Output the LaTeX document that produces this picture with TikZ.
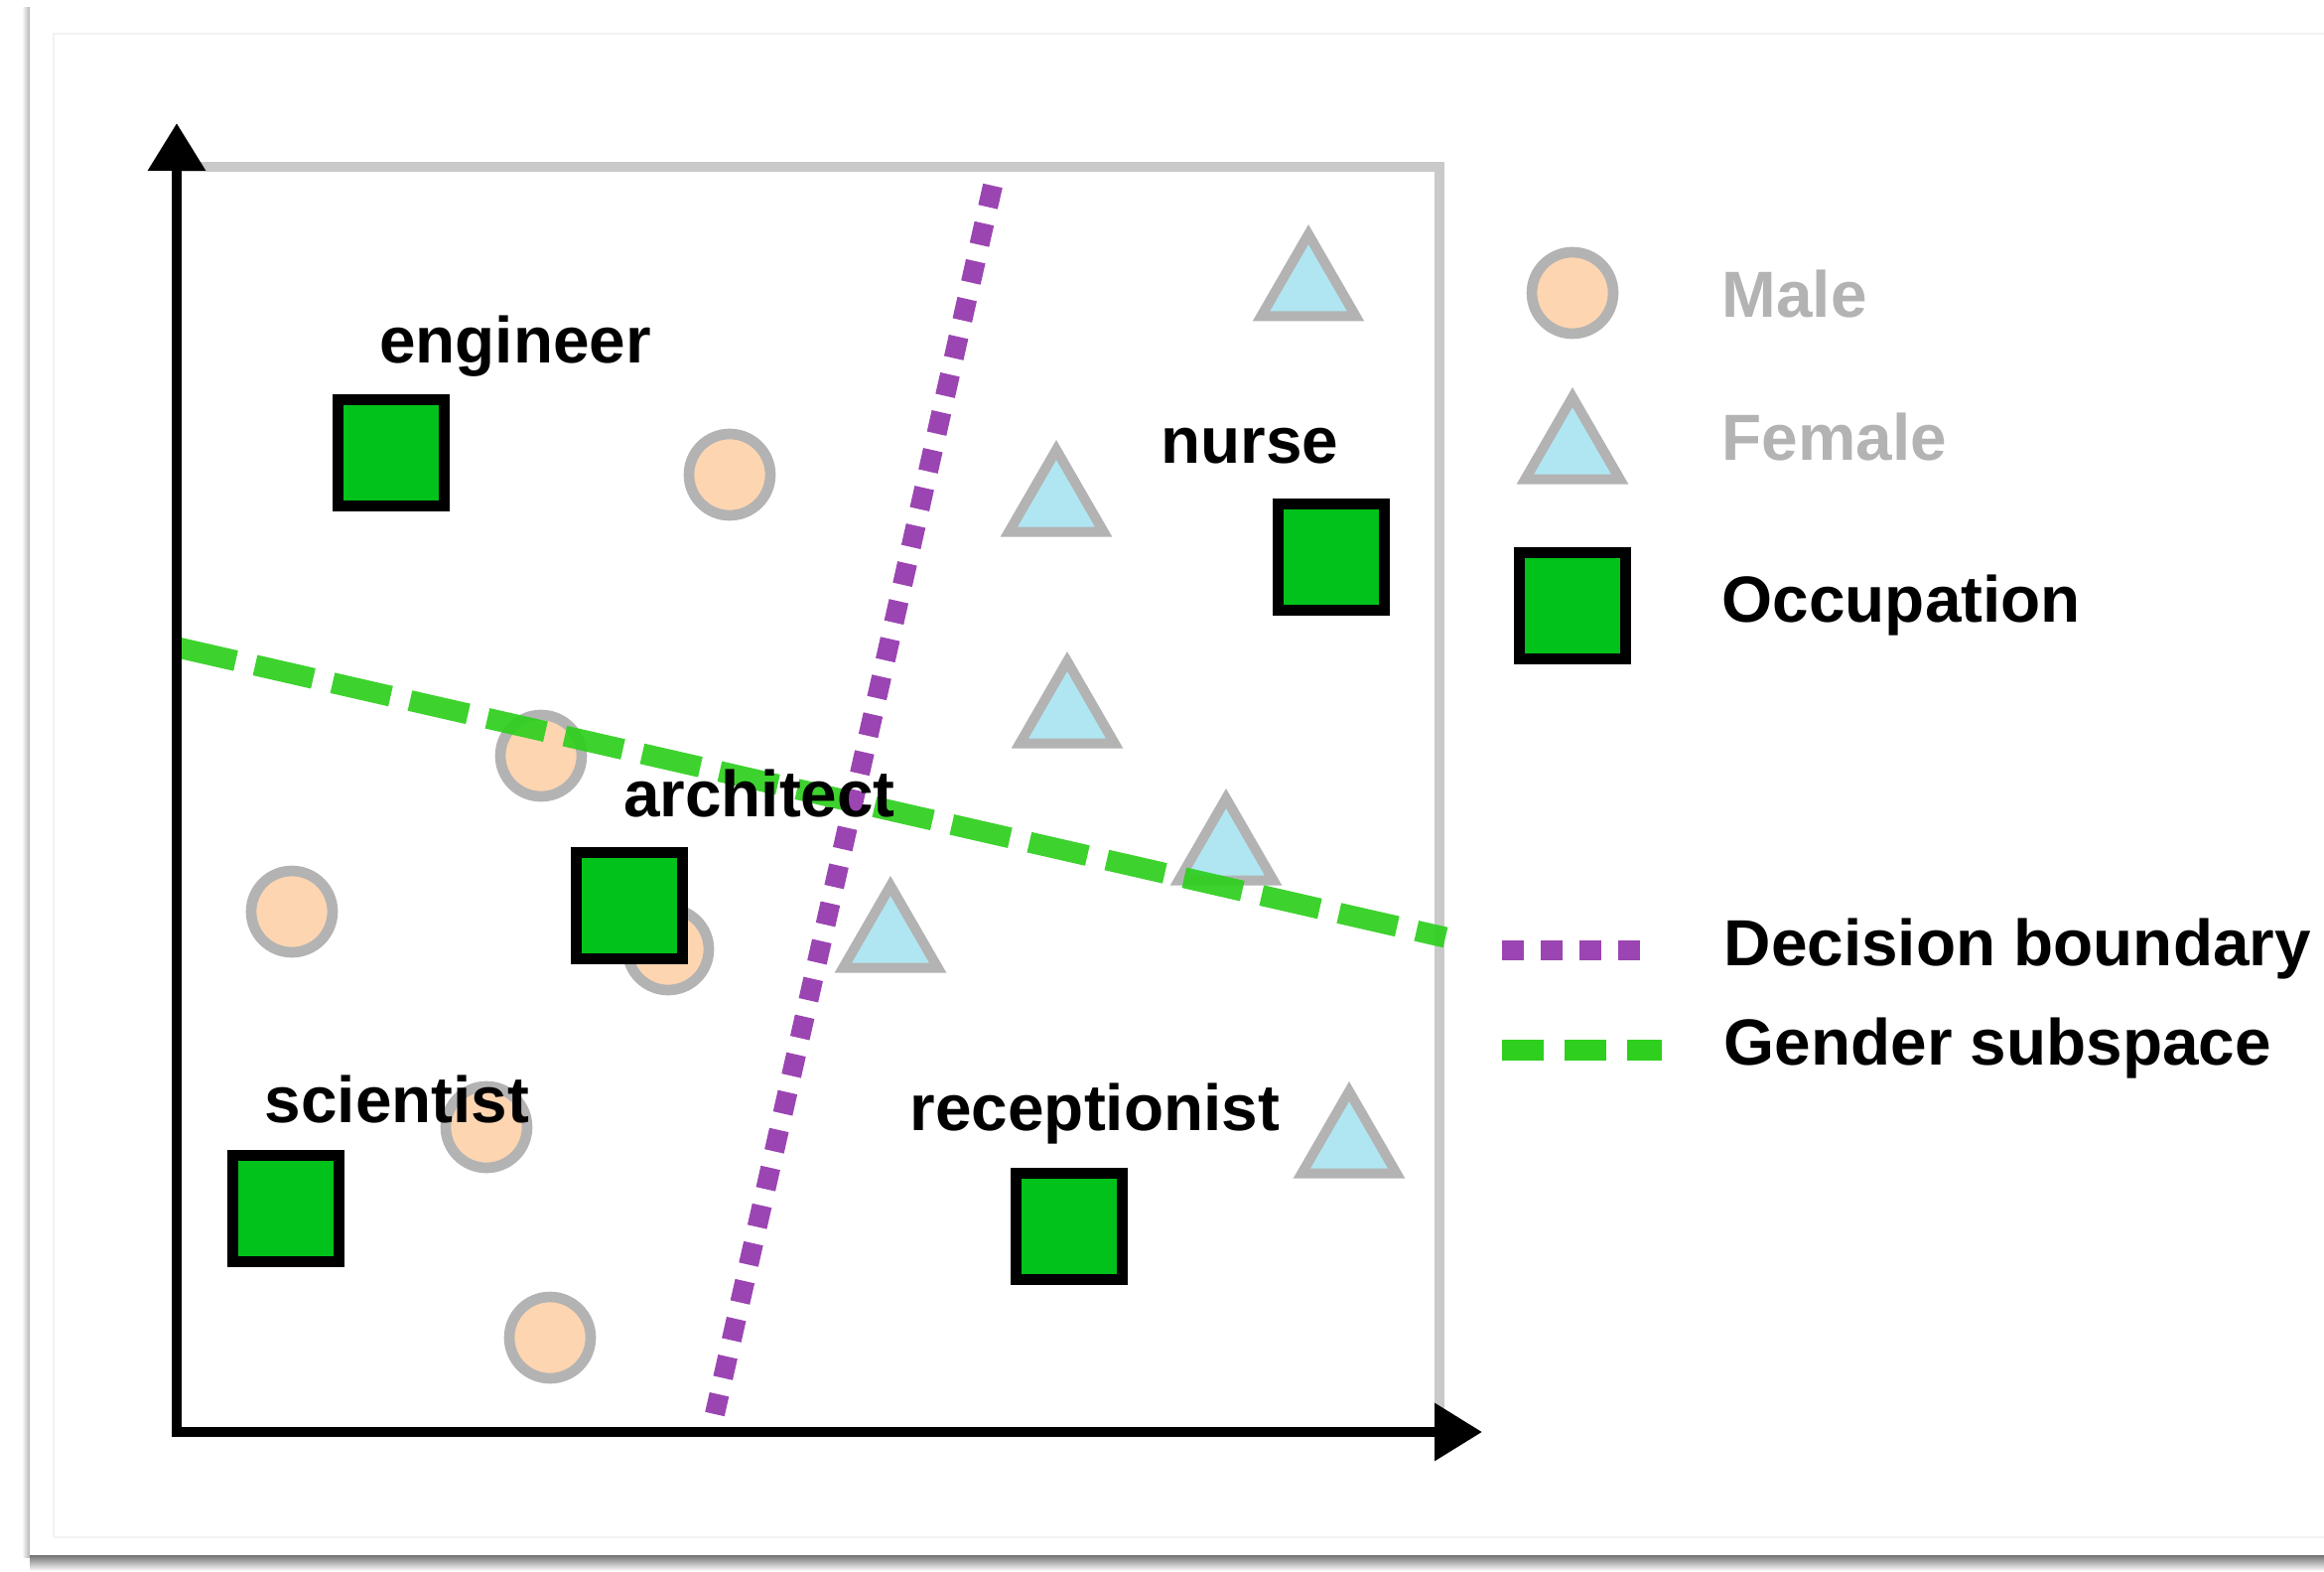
\documentclass[tikz,border=0pt]{standalone}
\usepackage{fontspec}
\setmainfont{Liberation Sans}
\usepackage{tikz}
\usetikzlibrary{arrows.meta,positioning}
\usetikzlibrary{shapes.geometric}

\definecolor{malefill}{HTML}{FDD5B1}
\definecolor{femalefill}{HTML}{B0E6F2}
\definecolor{jobgreen}{HTML}{00C21A}
\definecolor{markgray}{HTML}{B3B3B3}
\definecolor{framegray}{HTML}{C9C9C9}
\definecolor{boundary}{HTML}{9B45B2}
\definecolor{subspace}{HTML}{2ECF1E}

\tikzset{
  male/.style={circle, draw=markgray, fill=malefill, line width=3.2pt, minimum size=24.6pt, inner sep=0pt},
  female/.style={regular polygon, regular polygon sides=3, draw=markgray, fill=femalefill, line width=3pt, minimum size=33pt, inner sep=0pt},
  job/.style={rectangle, draw=black, fill=jobgreen, line width=3.3pt, minimum size=32.1pt, inner sep=0pt},
  lbl/.style={font=\fontsize{19.7pt}{24pt}\selectfont\bfseries, inner sep=0pt, anchor=base},
  legtext/.style={lbl, anchor=base west},
  boundaryline/.style={draw=boundary, line width=6pt, dash pattern=on 6.6pt off 5.1pt},
  subspaceline/.style={draw=subspace, line width=6.3pt, dash pattern=on 18pt off 6pt, opacity=.92}
}

\begin{document}
\begin{tikzpicture}[x=0.3pt, y=-0.3pt, >={Triangle[width=16.8pt,length=14.4pt]}]
  \useasboundingbox (0,0) rectangle (2341,1582);
  % card
  \fill[white] (0,0) rectangle (2341,1582);
  \shade[left color=white, right color=black!30] (22,8) rectangle (30,1568);
  \shade[top color=black!55, bottom color=white] (30,1566) rectangle (2341,1582);
  \fill[white] (30,8) rectangle (2341,1566);
  \draw[black!5, line width=0.6pt] (54,1548) -- (54,34) -- (2341,34);
  \draw[black!5, line width=0.6pt] (54,1548) -- (2341,1548);

  \coordinate (O) at (178,1442);
  \coordinate (Ytip) at (178,124);
  \coordinate (Xtip) at (1493,1442);
  \draw[framegray, line width=3pt] (178,168) rectangle (1450,1442);

  % male words
  \node[male] (M1) at (735,478) {};
  \node[male] (M2) at (545,761) {};
  \node[male] (M3) at (294,918) {};
  \node[male] (M4) at (673,956) {};
  \node[male] (M5) at (490,1135) {};
  \node[male] (M6) at (554,1347) {};

  % female words
  \node[female] (F1) at (1318,291) {};
  \node[female] (F2) at (1064,508) {};
  \node[female] (F3) at (1075,721) {};
  \node[female] (F4) at (1235,859) {};
  \node[female] (F5) at (897,947) {};
  \node[female] (F6) at (1359,1154) {};

  % occupations
  \node[job] (Eng) at (394,456) {};
  \node[job] (Nur) at (1341,561) {};
  \node[job] (Arc) at (634,912) {};
  \node[job] (Sci) at (288,1217) {};
  \node[job] (Rec) at (1077,1235) {};

  \coordinate (G1) at (179,652);
  \coordinate (G2) at (1456,944);
  \coordinate (D1) at (1000,187);
  \coordinate (D2) at (720,1424);
  \path[subspaceline] (G1) -- (G2);
  \path[boundaryline] (D1) -- (D2);

  \node[lbl] (EngL) at (519,366) {engineer};
  \node[lbl] (NurL) at (1259,466) {nurse};
  \node[lbl] (ArcL) at (765,822) {architect};
  \node[lbl] (SciL) at (400,1130) {scientist};
  \node[lbl] (RecL) at (1103,1138) {receptionist};

  \draw[line width=3pt, line join=miter, <->] (Ytip) -- (O) -- (Xtip);

  % legend
  \node[male] (LM) at (1584,295) {};
  \node[female] (LF) at (1584,455) {};
  \node[job] (LJ) at (1584,610) {};
  \node[legtext, text=markgray] (LMt) at (1734,319) {Male};
  \node[legtext, text=markgray] (LFt) at (1734,463) {Female};
  \node[legtext] (LJt) at (1734,626) {Occupation};

  \coordinate (LD1) at (1513,957);
  \coordinate (LD2) at (1661,957);
  \coordinate (LG1) at (1513,1057);
  \coordinate (LG2) at (1674,1057);
  \path[boundaryline] (LD1) -- (LD2);
  \path[draw=subspace, line width=6.3pt, dash pattern=on 12.6pt off 6.3pt] (LG1) -- (LG2);
  \node[legtext] (LDt) at (1736,972) {Decision boundary};
  \node[legtext] (LGt) at (1736,1072) {Gender subspace};
\end{tikzpicture}
\end{document}
